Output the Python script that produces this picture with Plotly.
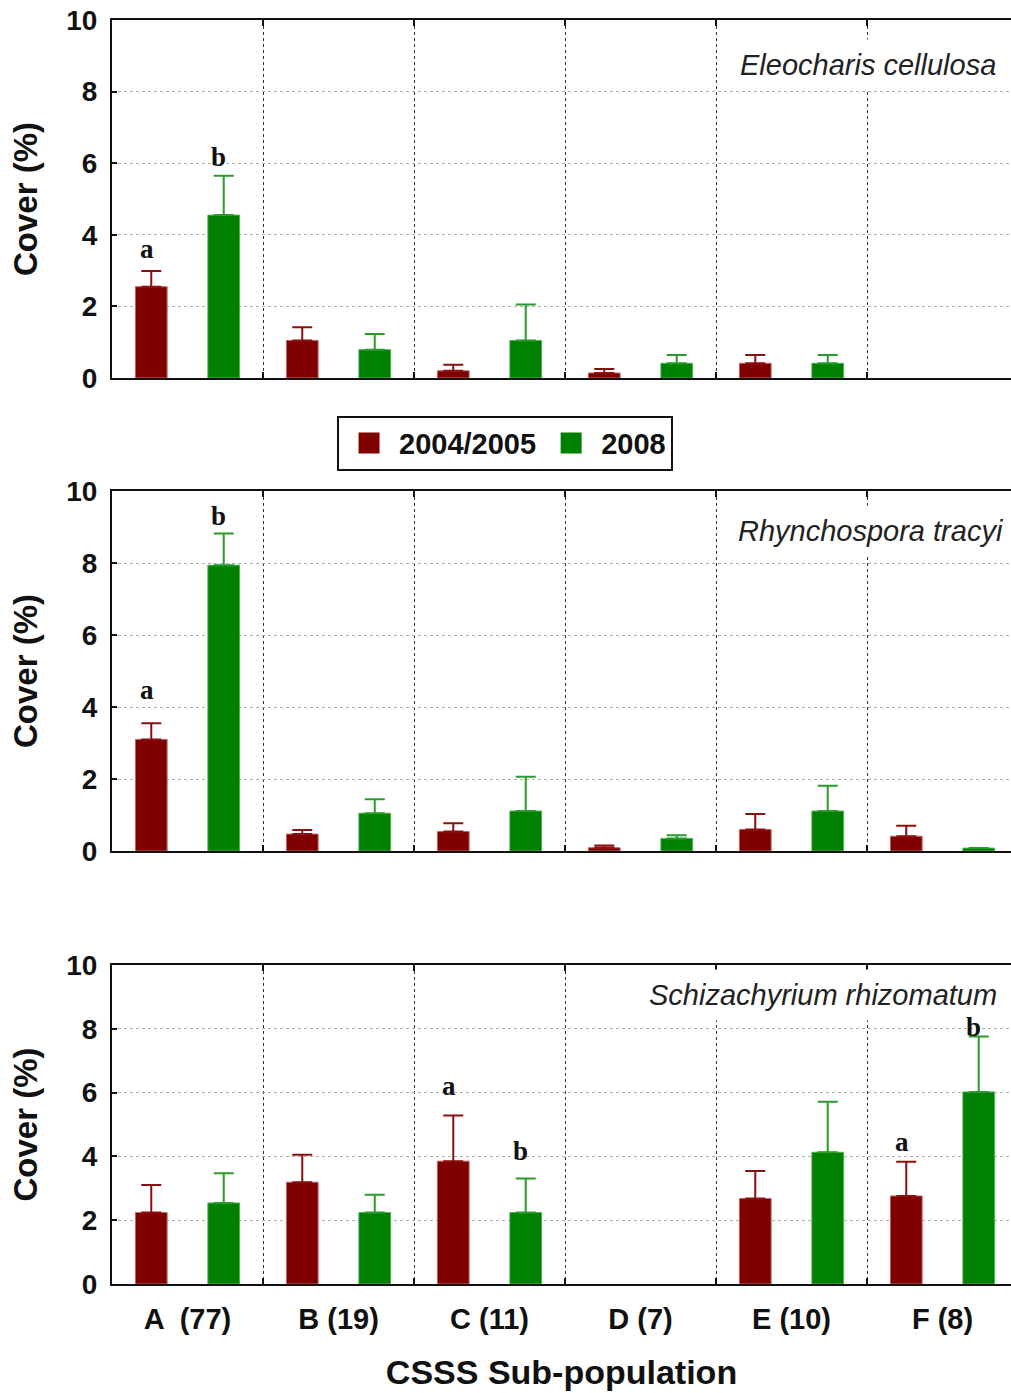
import plotly.graph_objects as go

# ---------------- data ----------------
categories = ["A  (77)", "B (19)", "C (11)", "D (7)", "E (10)", "F (8)"]
series_names = ["2004/2005", "2008"]
species = ["Eleocharis cellulosa", "Rhynchospora tracyi", "Schizachyrium rhizomatum"]

eleo_0405 = [2.55, 1.05, 0.20, 0.14, 0.41, None]
eleo_0405_se = [0.44, 0.37, 0.17, 0.11, 0.23, None]
eleo_2008 = [4.55, 0.79, 1.05, 0.41, 0.41, None]
eleo_2008_se = [1.10, 0.44, 1.00, 0.23, 0.23, None]

rhyn_0405 = [3.10, 0.47, 0.54, 0.09, 0.60, 0.41]
rhyn_0405_se = [0.45, 0.11, 0.23, 0.06, 0.43, 0.29]
rhyn_2008 = [7.94, 1.05, 1.11, 0.35, 1.11, 0.08]
rhyn_2008_se = [0.88, 0.39, 0.95, 0.09, 0.70, None]

schi_0405 = [2.24, 3.19, 3.85, None, 2.68, 2.76]
schi_0405_se = [0.86, 0.86, 1.43, None, 0.86, 1.07]
schi_2008 = [2.54, 2.24, 2.24, None, 4.13, 6.02]
schi_2008_se = [0.93, 0.56, 1.07, None, 1.58, 1.74]

# significance letters: (category, series index, letter, y position of letter baseline)
eleo_letters = [("A  (77)", 0, "a", 3.29), ("A  (77)", 1, "b", 5.87)]
rhyn_letters = [("A  (77)", 0, "a", 4.18), ("A  (77)", 1, "b", 8.99)]
schi_letters = [("C (11)", 0, "a", 5.85), ("C (11)", 1, "b", 3.81),
                ("F (8)", 0, "a", 4.10), ("F (8)", 1, "b", 7.70)]

y_ticks = [0, 2, 4, 6, 8, 10]

# ---------------- style ----------------
RED = "#800000"
GREEN = "#008000"
RED_EDGE = "#b86868"
GREEN_EDGE = "#4fae4f"
RED_ERR = "#8a1010"
GREEN_ERR = "#2a9a2a"
BOLD = "Liberation Sans"
FONT_COLOR = "#111111"

panels = [
    (eleo_0405, eleo_0405_se, eleo_2008, eleo_2008_se, eleo_letters, [0.71677, 1.0], 0.874, 0.9944),
    (rhyn_0405, rhyn_0405_se, rhyn_2008, rhyn_2008_se, rhyn_letters, [0.34256, 0.62737], 0.889, 1.0033),
    (schi_0405, schi_0405_se, schi_2008, schi_2008_se, schi_letters, [0.0, 0.25237], 0.906, 0.9955),
]

fig = go.Figure()
annotations = []
layout_axes = {}
n = len(categories)
x_right = -0.5 + 899.0 / 151.0

for i, (v1, e1, v2, e2, letters, ydom, sp_y, sp_x) in enumerate(panels):
    xa = "x" if i == 0 else f"x{i+1}"
    ya = "y" if i == 0 else f"y{i+1}"
    for vals, errs, col, edge, ecol, nm in [
        (v1, e1, RED, RED_EDGE, RED_ERR, series_names[0]),
        (v2, e2, GREEN, GREEN_EDGE, GREEN_ERR, series_names[1]),
    ]:
        fig.add_trace(go.Bar(
            x=categories, y=vals, name=nm, showlegend=False,
            xaxis=xa, yaxis=ya,
            marker=dict(color=col, line=dict(color=edge, width=1)),
            error_y=dict(type="data", array=errs, arrayminus=[0] * n, symmetric=False,
                         color=ecol, thickness=2, width=10),
        ))
    last = (i == len(panels) - 1)
    xkey = "xaxis" if i == 0 else f"xaxis{i+1}"
    ykey = "yaxis" if i == 0 else f"yaxis{i+1}"
    xdef = dict(
        domain=[0, 1], anchor=ya, type="category", categoryorder="array",
        categoryarray=categories, range=[-0.5, x_right],
        tickson="boundaries", showgrid=True, gridcolor="#333333", griddash="dot", gridwidth=1.3,
        ticks="inside", ticklen=6, tickwidth=2, tickcolor="#111",
        showline=True, linecolor="#111", linewidth=2, mirror="ticks",
        showticklabels=last, zeroline=False,
        tickfont=dict(family=BOLD, size=29, color=FONT_COLOR, weight="bold"),
        ticklabelstandoff=8,
    )
    if last:
        xdef["title"] = dict(text="CSSS Sub-population", standoff=26,
                             font=dict(family=BOLD, size=34, color=FONT_COLOR, weight="bold"))
    layout_axes[xkey] = xdef
    layout_axes[ykey] = dict(
        domain=ydom, anchor=xa, range=[0, 10], tickvals=y_ticks,
        showgrid=True, gridcolor="#b0b0b0", griddash="dot", gridwidth=1,
        ticks="inside", ticklen=5, tickwidth=2, tickcolor="#111",
        showline=True, linecolor="#111", linewidth=2, mirror=False, zeroline=False,
        tickfont=dict(family=BOLD, size=28, color=FONT_COLOR, weight="bold"),
        ticklabelstandoff=7,
        title=dict(text="Cover (%)", standoff=19,
                   font=dict(family=BOLD, size=33, color=FONT_COLOR, weight="bold")),
    )
    annotations.append(dict(
        text=species[i], xref=f"{xa} domain", yref=f"{ya} domain",
        x=sp_x, y=sp_y, xanchor="right", yanchor="middle", showarrow=False,
        bgcolor="white", borderpad=9,
        font=dict(family=BOLD, size=29, color="#222", style="italic"),
    ))
    for cat, si, txt, yv in letters:
        annotations.append(dict(
            text=txt, xref=xa, yref=ya, x=cat, y=yv, xanchor="center", yanchor="bottom",
            xshift=(-36 if si == 0 else 36) - 5, yshift=-6, showarrow=False,
            font=dict(family="Liberation Serif", size=27, color="#111", weight="bold"),
        ))

# legend entries
for nm, col in zip(series_names, [RED, GREEN]):
    fig.add_trace(go.Scatter(
        x=[None], y=[None], mode="markers", name=nm, xaxis="x2", yaxis="y2",
        marker=dict(symbol="square", size=16, color=col, line=dict(color=col, width=5)),
    ))

fig.update_layout(
    width=1011, height=1393,
    margin=dict(l=112, r=0, t=20, b=109, autoexpand=False),
    paper_bgcolor="white", plot_bgcolor="white",
    barmode="group", bargap=0.04, bargroupgap=0.5625,
    showlegend=True,
    legend=dict(
        orientation="h", x=0.4372, y=0.6653, xanchor="center", yanchor="middle",
        bordercolor="#111", borderwidth=2, bgcolor="white",
        font=dict(family=BOLD, size=29, color=FONT_COLOR, weight="bold"),
        itemwidth=50,
    ),
    annotations=annotations,
    **layout_axes,
)

fig.write_html("out.html", config={"displayModeBar": False},
               post_script="document.body.style.margin='0';")
